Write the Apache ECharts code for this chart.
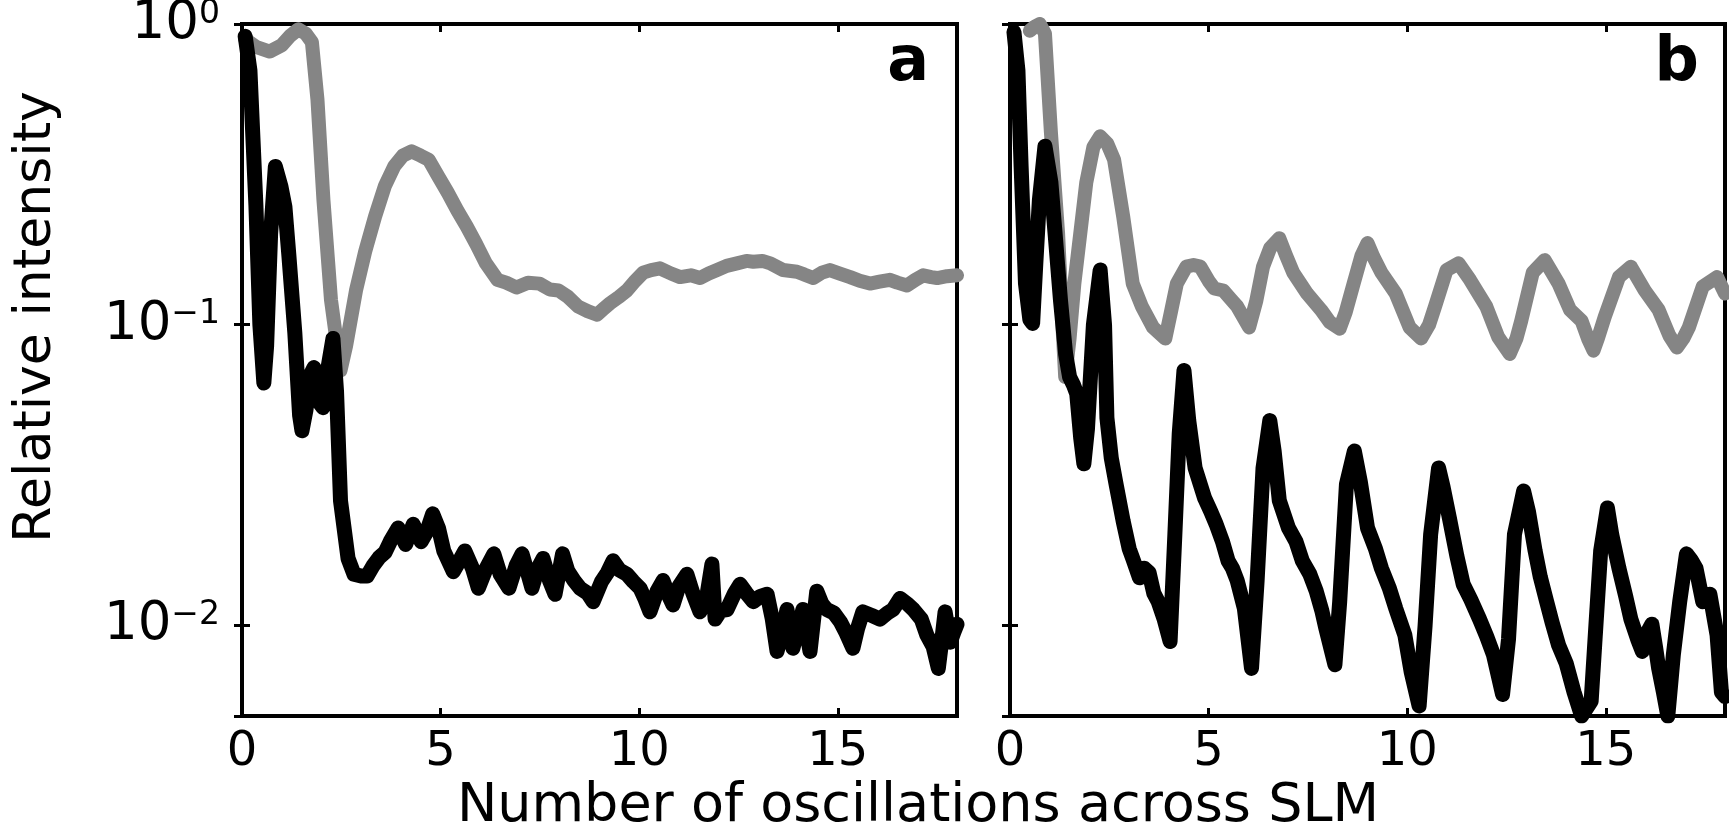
<!DOCTYPE html>
<html>
<head>
<meta charset="utf-8">
<script src="https://cdn.jsdelivr.net/npm/echarts@6/dist/echarts.min.js"></script>
<style>
  html, body { margin: 0; padding: 0; background: #fff; }
  #chart { width: 1729px; height: 832px; }
</style>
</head>
<body>
<div id="chart"></div>
<script>
// Relative intensity vs. number of oscillations across the SLM.
// Panel a and panel b, each with a grey and a black trace.

const xTickValues = [0, 5, 10, 15];
const yTickExponents = [0, -1, -2];

// Panel a, grey trace
const grayA_x = [0.08, 0.35, 0.7, 1.0, 1.2, 1.42, 1.6, 1.76, 1.9, 2.05, 2.24, 2.48, 2.62, 2.87, 3.1, 3.35, 3.6, 3.83, 4.05, 4.27, 4.5, 4.7, 4.95, 5.18, 5.42, 5.66, 5.9, 6.14, 6.43, 6.65, 6.91, 7.2, 7.49, 7.75, 7.97, 8.2, 8.46, 8.7, 8.94, 9.1, 9.27, 9.5, 9.69, 9.9, 10.1, 10.3, 10.52, 10.8, 11.03, 11.3, 11.53, 11.75, 11.96, 12.2, 12.46, 12.7, 12.87, 13.1, 13.3, 13.62, 13.97, 14.15, 14.38, 14.6, 14.8, 15.05, 15.31, 15.55, 15.81, 16.05, 16.31, 16.5, 16.74, 16.95, 17.15, 17.35, 17.5, 17.75, 18];
const grayA_y = [0.89, 0.84, 0.81, 0.85, 0.91, 0.96, 0.93, 0.87, 0.56, 0.26, 0.121, 0.0705, 0.085, 0.13, 0.175, 0.229, 0.29, 0.336, 0.365, 0.377, 0.365, 0.354, 0.31, 0.275, 0.24, 0.212, 0.185, 0.16, 0.141, 0.138, 0.133, 0.138, 0.137, 0.131, 0.13, 0.124, 0.115, 0.111, 0.108, 0.113, 0.118, 0.124, 0.13, 0.14, 0.149, 0.152, 0.154, 0.148, 0.144, 0.146, 0.143, 0.148, 0.152, 0.157, 0.16, 0.163, 0.162, 0.163, 0.16, 0.152, 0.15, 0.147, 0.143, 0.149, 0.152, 0.148, 0.144, 0.14, 0.137, 0.139, 0.141, 0.138, 0.135, 0.141, 0.146, 0.144, 0.143, 0.145, 0.146];

// Panel a, black trace
const blackA_x = [0.08, 0.2, 0.35, 0.45, 0.55, 0.62, 0.72, 0.84, 0.98, 1.08, 1.18, 1.33, 1.45, 1.51, 1.61, 1.72, 1.81, 1.95, 2.04, 2.15, 2.29, 2.38, 2.48, 2.67, 2.82, 3.0, 3.15, 3.3, 3.45, 3.6, 3.73, 3.93, 4.12, 4.31, 4.51, 4.65, 4.8, 4.95, 5.08, 5.32, 5.45, 5.61, 5.8, 5.95, 6.15, 6.34, 6.5, 6.72, 6.9, 7.05, 7.2, 7.3, 7.45, 7.58, 7.75, 7.88, 8.07, 8.2, 8.36, 8.51, 8.7, 8.84, 9.05, 9.2, 9.34, 9.5, 9.69, 9.85, 10.02, 10.15, 10.27, 10.45, 10.6, 10.75, 10.85, 11.0, 11.2, 11.35, 11.53, 11.7, 11.83, 11.91, 12.05, 12.21, 12.4, 12.54, 12.7, 12.87, 13.05, 13.22, 13.35, 13.47, 13.6, 13.72, 13.87, 14.0, 14.12, 14.3, 14.47, 14.6, 14.72, 14.9, 15.06, 15.2, 15.38, 15.5, 15.63, 15.85, 16.06, 16.25, 16.39, 16.57, 16.75, 16.9, 17.1, 17.24, 17.4, 17.53, 17.62, 17.7, 17.83, 17.92, 18];
const blackA_y = [0.91, 0.7, 0.25, 0.1, 0.064, 0.085, 0.2, 0.336, 0.288, 0.247, 0.17, 0.094, 0.05, 0.0444, 0.052, 0.068, 0.072, 0.055, 0.053, 0.07, 0.09, 0.06, 0.026, 0.0167, 0.0148, 0.0146, 0.0146, 0.0158, 0.0168, 0.0175, 0.019, 0.0211, 0.0186, 0.0217, 0.019, 0.0205, 0.0235, 0.021, 0.0177, 0.0151, 0.0162, 0.0177, 0.0155, 0.0133, 0.0155, 0.0173, 0.0148, 0.0133, 0.0158, 0.0173, 0.0148, 0.0133, 0.0155, 0.0167, 0.014, 0.0127, 0.0173, 0.0152, 0.0141, 0.0133, 0.0128, 0.012, 0.014, 0.015, 0.0164, 0.0153, 0.0148, 0.014, 0.0133, 0.0122, 0.0111, 0.013, 0.0141, 0.0125, 0.0117, 0.0135, 0.0148, 0.0128, 0.0111, 0.0125, 0.016, 0.0105, 0.0112, 0.0113, 0.0128, 0.0137, 0.0128, 0.012, 0.0125, 0.0127, 0.0105, 0.0082, 0.0095, 0.0113, 0.0084, 0.0098, 0.0113, 0.0082, 0.013, 0.0118, 0.0113, 0.011, 0.0103, 0.0095, 0.0084, 0.0098, 0.0111, 0.0108, 0.0105, 0.011, 0.0113, 0.0123, 0.0118, 0.0113, 0.0105, 0.0093, 0.0085, 0.0072, 0.009, 0.0111, 0.0088, 0.0095, 0.0101];

// Panel b, grey trace
const grayB_x = [0.5, 0.62, 0.75, 0.88, 1.03, 1.21, 1.33, 1.39, 1.5, 1.62, 1.92, 2.1, 2.27, 2.45, 2.62, 2.85, 3.09, 3.32, 3.6, 3.91, 4.05, 4.2, 4.44, 4.62, 4.79, 5.0, 5.14, 5.37, 5.55, 5.72, 6.02, 6.2, 6.37, 6.55, 6.78, 6.95, 7.13, 7.48, 7.83, 8.05, 8.3, 8.45, 8.65, 8.85, 9.0, 9.15, 9.35, 9.71, 10.06, 10.35, 10.55, 10.7, 10.99, 11.29, 11.58, 11.99, 12.29, 12.58, 12.75, 12.87, 13.16, 13.46, 13.81, 14.1, 14.39, 14.55, 14.69, 14.8, 14.97, 15.33, 15.63, 15.98, 16.33, 16.6, 16.79, 16.95, 17.09, 17.44, 17.8, 18];
const grayB_y = [0.95, 0.98, 1.0, 0.93, 0.436, 0.202, 0.094, 0.067, 0.09, 0.137, 0.297, 0.39, 0.423, 0.4, 0.354, 0.229, 0.137, 0.115, 0.098, 0.09, 0.11, 0.137, 0.156, 0.158, 0.156, 0.14, 0.132, 0.13, 0.122, 0.115, 0.098, 0.12, 0.156, 0.18, 0.194, 0.17, 0.149, 0.127, 0.112, 0.102, 0.097, 0.11, 0.137, 0.17, 0.187, 0.168, 0.149, 0.127, 0.098, 0.09, 0.1, 0.115, 0.152, 0.16, 0.141, 0.115, 0.091, 0.08, 0.09, 0.103, 0.149, 0.164, 0.137, 0.112, 0.103, 0.09, 0.082, 0.09, 0.106, 0.144, 0.156, 0.13, 0.112, 0.092, 0.084, 0.09, 0.098, 0.134, 0.144, 0.127];

// Panel b, black trace
const blackB_x = [0.1, 0.2, 0.28, 0.39, 0.5, 0.57, 0.65, 0.74, 0.88, 1.03, 1.15, 1.27, 1.4, 1.5, 1.6, 1.68, 1.78, 1.86, 1.95, 2.1, 2.27, 2.38, 2.44, 2.55, 2.67, 2.85, 3.0, 3.09, 3.26, 3.38, 3.5, 3.62, 3.73, 3.88, 4.03, 4.15, 4.26, 4.38, 4.5, 4.66, 4.9, 5.05, 5.19, 5.35, 5.49, 5.6, 5.72, 5.9, 6.08, 6.22, 6.37, 6.54, 6.65, 6.78, 7.01, 7.2, 7.36, 7.55, 7.71, 7.85, 7.95, 8.18, 8.3, 8.47, 8.67, 8.82, 9.0, 9.2, 9.35, 9.55, 9.71, 9.94, 10.1, 10.3, 10.45, 10.59, 10.79, 10.9, 11.06, 11.25, 11.41, 11.6, 11.82, 12.0, 12.17, 12.4, 12.55, 12.7, 12.93, 13.05, 13.22, 13.35, 13.51, 13.65, 13.81, 14.0, 14.2, 14.39, 14.63, 14.75, 14.87, 15.04, 15.15, 15.33, 15.5, 15.63, 15.8, 15.92, 16.05, 16.16, 16.25, 16.33, 16.45, 16.56, 16.7, 16.86, 17.03, 17.15, 17.27, 17.44, 17.62, 17.8, 17.91, 18];
const blackB_y = [0.94, 0.7, 0.336, 0.137, 0.104, 0.101, 0.16, 0.26, 0.392, 0.297, 0.19, 0.121, 0.08, 0.067, 0.063, 0.059, 0.042, 0.0345, 0.045, 0.1, 0.152, 0.1, 0.049, 0.036, 0.0295, 0.0222, 0.018, 0.0167, 0.0144, 0.0155, 0.015, 0.0128, 0.012, 0.0105, 0.00885, 0.02, 0.0434, 0.0705, 0.048, 0.0334, 0.0265, 0.024, 0.0217, 0.019, 0.0164, 0.0155, 0.0141, 0.0114, 0.0072, 0.014, 0.0334, 0.048, 0.038, 0.026, 0.0211, 0.019, 0.0164, 0.0148, 0.013, 0.0112, 0.0098, 0.0074, 0.012, 0.0295, 0.038, 0.03, 0.0211, 0.018, 0.0155, 0.0133, 0.0114, 0.0093, 0.007, 0.0054, 0.01, 0.0201, 0.0334, 0.029, 0.0228, 0.017, 0.0137, 0.0122, 0.0105, 0.0092, 0.008, 0.0059, 0.009, 0.0201, 0.028, 0.024, 0.0177, 0.0145, 0.012, 0.0102, 0.0086, 0.0075, 0.006, 0.005, 0.0056, 0.01, 0.0177, 0.0246, 0.02, 0.0155, 0.0125, 0.0105, 0.009, 0.0082, 0.0095, 0.0101, 0.0085, 0.0072, 0.006, 0.005, 0.008, 0.012, 0.0173, 0.0165, 0.0155, 0.012, 0.0127, 0.0093, 0.006, 0.0058];

const panelLetters = ['a', 'b'];
const xTitle = 'Number of oscillations across SLM';
const yTitle = 'Relative intensity';

const FONT = 'DejaVu Sans';
const GREY = '#858585';
const BLACK = '#000000';

function pairs(xs, ys) {
  return xs.map((x, i) => [x, ys[i]]);
}

function yLabel(v) {
  const lg = Math.log10(v);
  const e = Math.round(lg);
  if (Math.abs(lg - e) > 1e-6 || yTickExponents.indexOf(e) < 0) return '';
  const sup = e === 0 ? '0' : '\u2212' + (-e);
  return '{m|10}{s|' + sup + '}';
}

function xLabel(v) {
  return xTickValues.indexOf(v) >= 0 ? String(v) : '';
}

const tickStyle = { inside: true, length: 8, lineStyle: { color: BLACK, width: 3 } };

function makeX(gridIndex, position, showLabels) {
  return {
    gridIndex, type: 'value', position,
    min: 0, max: 18, interval: 5,
    axisLine: { show: false },
    axisTick: tickStyle,
    splitLine: { show: false },
    axisLabel: showLabels ? {
      show: true, formatter: xLabel, margin: 13,
      fontSize: 48, fontFamily: FONT, color: BLACK
    } : { show: false }
  };
}

function makeY(gridIndex, position, showLabels) {
  return {
    gridIndex, type: 'log', logBase: 10, position,
    min: 0.005, max: 1,
    axisLine: { show: false },
    axisTick: tickStyle,
    splitLine: { show: false },
    minorTick: { show: false },
    axisLabel: showLabels ? {
      show: true, formatter: yLabel, margin: 22,
      rich: {
        m: { fontSize: 53, fontFamily: FONT, color: BLACK },
        s: { fontSize: 33, fontFamily: FONT, color: BLACK, verticalAlign: 'top' }
      }
    } : { show: false }
  };
}

function lineSeries(xIdx, yIdx, xs, ys, color, width, z) {
  return {
    type: 'line', xAxisIndex: xIdx, yAxisIndex: yIdx,
    data: pairs(xs, ys), showSymbol: false, symbol: 'none',
    smooth: false, clip: true, z,
    lineStyle: { color, width, cap: 'round', join: 'round' },
    emphasis: { disabled: true }
  };
}

const gridBase = { top: 24, bottom: 116, show: true, borderColor: BLACK, borderWidth: 4, backgroundColor: 'transparent', outerBoundsMode: 'none' };

const option = {
  animation: false,
  backgroundColor: '#ffffff',
  grid: [
    Object.assign({ left: 242, right: 772 }, gridBase),
    Object.assign({ left: 1010, right: 4 }, gridBase)
  ],
  xAxis: [
    makeX(0, 'bottom', true), makeX(0, 'top', false),
    makeX(1, 'bottom', true), makeX(1, 'top', false)
  ],
  yAxis: [
    makeY(0, 'left', true), makeY(0, 'right', false),
    makeY(1, 'left', false), makeY(1, 'right', false)
  ],
  series: [
    lineSeries(0, 0, grayA_x, grayA_y, GREY, 14, 2),
    lineSeries(0, 0, blackA_x, blackA_y, BLACK, 15, 3),
    lineSeries(2, 2, grayB_x, grayB_y, GREY, 14, 2),
    lineSeries(2, 2, blackB_x, blackB_y, BLACK, 15, 3)
  ],
  graphic: [
    { type: 'text', x: 929, y: 64, style: { text: panelLetters[0], fontSize: 62, fontWeight: 900, fontFamily: FONT, fill: BLACK, align: 'right', verticalAlign: 'middle' } },
    { type: 'text', x: 1699, y: 64, style: { text: panelLetters[1], fontSize: 62, fontWeight: 900, fontFamily: FONT, fill: BLACK, align: 'right', verticalAlign: 'middle' } },
    { type: 'text', x: 918, y: 807, style: { text: xTitle, fontSize: 54, fontFamily: FONT, fill: BLACK, align: 'center', verticalAlign: 'middle' } },
    { type: 'text', x: 36, y: 317, rotation: Math.PI / 2, style: { text: yTitle, fontSize: 52, fontFamily: FONT, fill: BLACK, align: 'center', verticalAlign: 'middle' } }
  ]
};

const chart = echarts.init(document.getElementById('chart'), null, { renderer: 'canvas' });
chart.setOption(option);
</script>
</body>
</html>
